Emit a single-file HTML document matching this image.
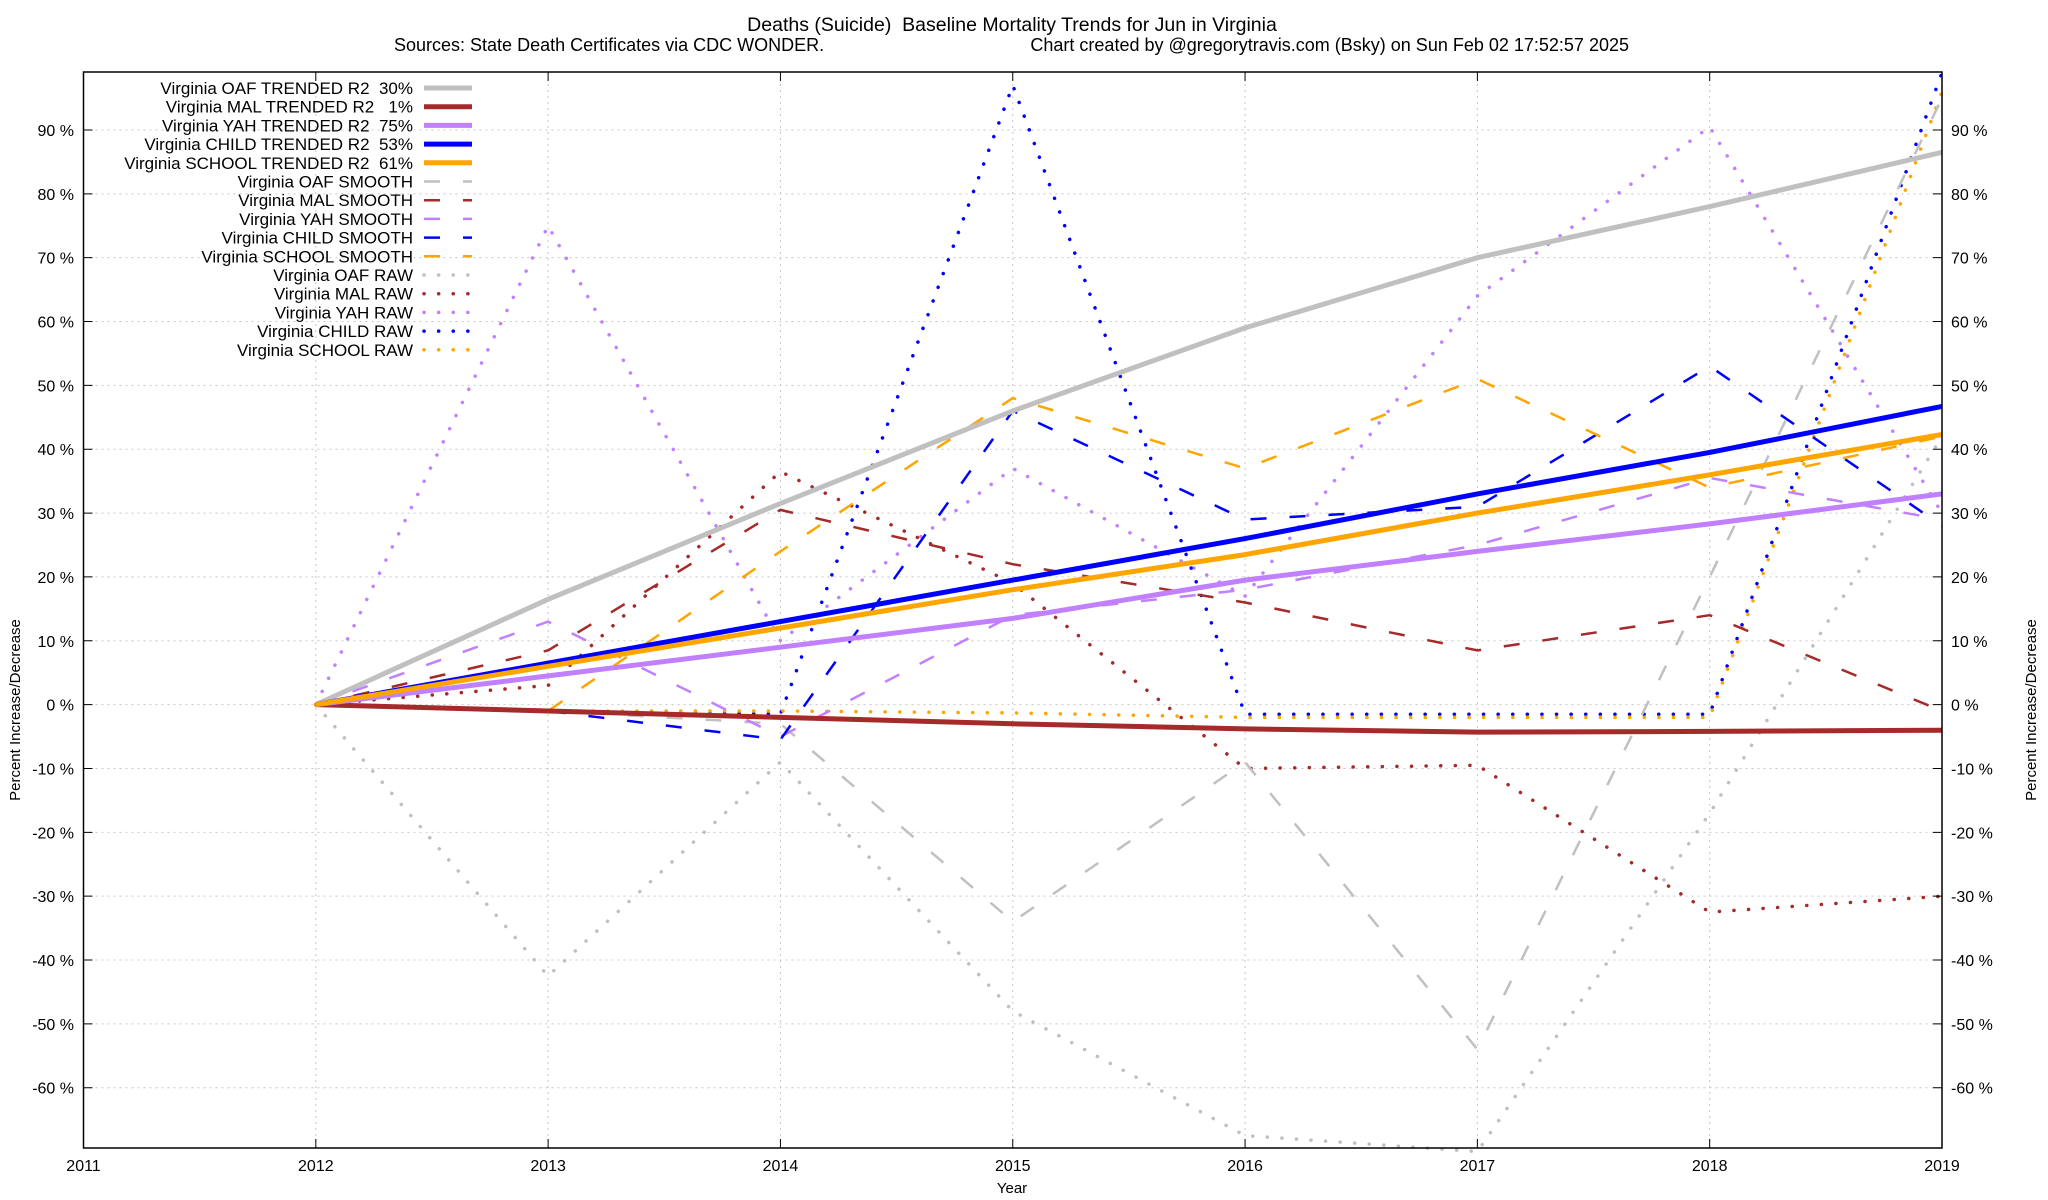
<!DOCTYPE html>
<html><head><meta charset="utf-8"><style>
html,body{margin:0;padding:0;background:#fff;}
svg{display:block;font-family:"Liberation Sans",sans-serif;}
svg text{white-space:pre;}
</style></head><body>
<svg id="chart" width="2048" height="1200" viewBox="0 0 2048 1200" xmlns="http://www.w3.org/2000/svg" xml:space="preserve">
<text x="1012" y="31" font-size="19.5" text-anchor="middle">Deaths (Suicide)  Baseline Mortality Trends for Jun in Virginia</text>
<text x="394" y="51" font-size="18">Sources: State Death Certificates via CDC WONDER.</text>
<text x="1629" y="51" font-size="18" text-anchor="end">Chart created by @gregorytravis.com (Bsky) on Sun Feb 02 17:52:57 2025</text>
<text transform="translate(20,710) rotate(-90)" font-size="15" text-anchor="middle">Percent Increase/Decrease</text>
<text transform="translate(2036,710) rotate(-90)" font-size="15" text-anchor="middle">Percent Increase/Decrease</text>
<text x="1012" y="1193" font-size="15" text-anchor="middle">Year</text>
<g id="grid"></g><g id="series"></g><g id="axes"></g><g id="legend"></g>
</svg>
<script>
const years=[2012,2013,2014,2015,2016,2017,2018,2019];
const xTicks=[2011,2012,2013,2014,2015,2016,2017,2018,2019];
const yTicks=[-60,-50,-40,-30,-20,-10,0,10,20,30,40,50,60,70,80,90];
const oafTrend=[0,16.5,31.5,46,59,70,78,86.5];
const malTrend=[0,-1,-2,-3,-3.8,-4.3,-4.2,-4.0];
const yahTrend=[0,4.5,9,13.5,19.5,24,28.3,33];
const childTrend=[0,6.5,13,19.5,26,33,39.5,46.7];
const schoolTrend=[0,6,12,18,23.5,30,36,42.3];
const oafSmooth=[0,-1,-3,-34,-9,-54,20,95];
const malSmooth=[0,8.5,30.5,22,16,8.5,14,-1];
const yahSmooth=[0,13,-5,14,18,25,35.5,29];
const childSmooth=[0,-1,-5.5,46,29,31,53,28];
const schoolSmooth=[0,-1,24,48,37,51,34,42];
const oafRaw=[0,-42.5,-9,-48,-67.5,-70,-17,42];
const malRaw=[0,3,36.5,19,-10,-9.5,-32.5,-30];
const yahRaw=[0,75,10,37,17,64,90.5,30];
const childRaw=[0,-1,-1.5,97,-1.5,-1.5,-1.5,99];
const schoolRaw=[0,-1,-1,-1.3,-2,-2,-2,96];

const L=83.5,R=1942,T=72,B=1148,XMIN=2011,XMAX=2019,YMIN=-69.44,YMAX=99.08;
const xs=v=>L+(v-XMIN)/(XMAX-XMIN)*(R-L);
const ys=v=>B-(v-YMIN)/(YMAX-YMIN)*(B-T);
const NS="http://www.w3.org/2000/svg";
function mk(tag,attrs,parent){const e=document.createElementNS(NS,tag);for(const k in attrs)e.setAttribute(k,attrs[k]);parent.appendChild(e);return e;}
const grid=document.getElementById('grid'),axes=document.getElementById('axes'),ser=document.getElementById('series'),leg=document.getElementById('legend');

xTicks.forEach(t=>{
  const x=xs(t);
  if(t!==XMIN){const g=mk('line',{x1:x,x2:x,y1:T,y2:B,stroke:'#c8c8c8','stroke-width':1,'stroke-dasharray':'2,4'},grid);
  
  }
  const tk=mk('path',{d:`M${x},${B}v-9M${x},${T}v9`,stroke:'#000','stroke-width':1},axes);
  
  
  const lb=mk('text',{x:x,y:1171,'font-size':16,'text-anchor':'middle'},axes);lb.textContent=t;
  
  
});
yTicks.forEach(t=>{
  const y=ys(t);
  const g=mk('line',{x1:L,x2:R,y1:y,y2:y,stroke:'#c8c8c8','stroke-width':1,'stroke-dasharray':'2,4'},grid);
  
  
  const tk=mk('path',{d:`M${L},${y}h9M${R},${y}h-9`,stroke:'#000','stroke-width':1},axes);
  
  
  const a=mk('text',{x:74,y:y+6,'font-size':16,'text-anchor':'end'},axes);a.textContent=t+' %';
  
  
  const b=mk('text',{x:1951,y:y+6,'font-size':16},axes);b.textContent=t+' %';
  
  
});
const fr=mk('rect',{x:L,y:T,width:R-L,height:B-T,fill:'none',stroke:'#000','stroke-width':1.5},axes);



const C={oaf:'#c0c0c0',mal:'#a52a2a',yah:'#c080ff',child:'#0000ff',school:'#ffa500'};
const ST={trend:{w:5,d:'none',cap:'butt'},smooth:{w:2.5,d:'16,23',cap:'butt'},raw:{w:3.5,d:'0.1,14.5',cap:'round'}};
const series=[
 ['Virginia OAF TRENDED R2  30%',oafTrend,'oaf','trend','oaf-trended-line'],
 ['Virginia MAL TRENDED R2   1%',malTrend,'mal','trend','mal-trended-line'],
 ['Virginia YAH TRENDED R2  75%',yahTrend,'yah','trend','yah-trended-line'],
 ['Virginia CHILD TRENDED R2  53%',childTrend,'child','trend','child-trended-line'],
 ['Virginia SCHOOL TRENDED R2  61%',schoolTrend,'school','trend','school-trended-line'],
 ['Virginia OAF SMOOTH',oafSmooth,'oaf','smooth','oaf-smooth-line'],
 ['Virginia MAL SMOOTH',malSmooth,'mal','smooth','mal-smooth-line'],
 ['Virginia YAH SMOOTH',yahSmooth,'yah','smooth','yah-smooth-line'],
 ['Virginia CHILD SMOOTH',childSmooth,'child','smooth','child-smooth-line'],
 ['Virginia SCHOOL SMOOTH',schoolSmooth,'school','smooth','school-smooth-line'],
 ['Virginia OAF RAW',oafRaw,'oaf','raw','oaf-raw-line'],
 ['Virginia MAL RAW',malRaw,'mal','raw','mal-raw-line'],
 ['Virginia YAH RAW',yahRaw,'yah','raw','yah-raw-line'],
 ['Virginia CHILD RAW',childRaw,'child','raw','child-raw-line'],
 ['Virginia SCHOOL RAW',schoolRaw,'school','raw','school-raw-line']
];
const order=[10,11,12,13,14,5,6,7,8,9,0,1,2,3,4];
order.forEach(i=>{
  const [name,vals,c,st,dn]=series[i];const s=ST[st];
  const d=vals.map((v,j)=>(j?'L':'M')+xs(years[j]).toFixed(1)+','+ys(v).toFixed(1)).join('');
  const p=mk('path',{d:d,fill:'none',stroke:C[c],'stroke-width':s.w,'stroke-dasharray':s.d,'stroke-linecap':s.cap,'stroke-linejoin':'round'},ser);
  
  
});
series.forEach(([name,vals,c,st,dn],i)=>{
  const y=88+i*18.7;const s=ST[st];
  const t=mk('text',{x:413,y:y+6,'font-size':17,'text-anchor':'end'},leg);t.textContent=name;
  
  
  const l=mk('line',{x1:424,x2:472,y1:y,y2:y,stroke:C[c],'stroke-width':s.w,'stroke-dasharray':s.d,'stroke-linecap':s.cap},leg);
  
  
});
</script>
</body></html>
